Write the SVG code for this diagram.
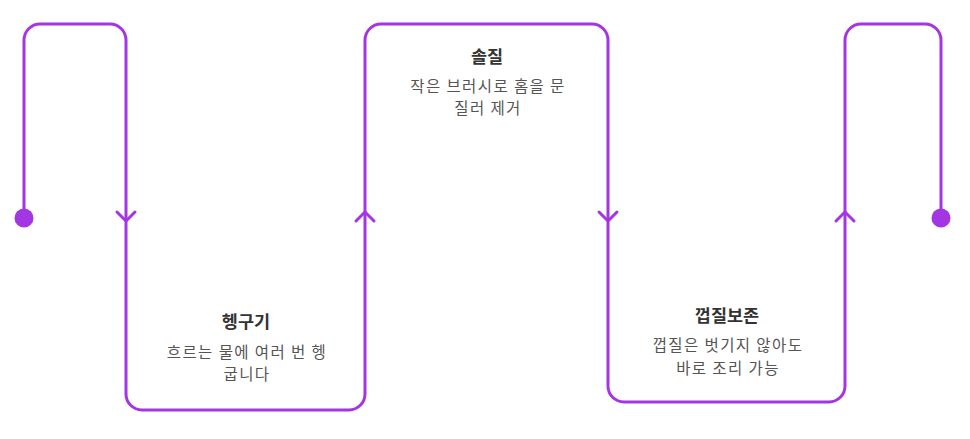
<svg xmlns="http://www.w3.org/2000/svg" width="970" height="439" viewBox="0 0 970 439">
<style>
.line{fill:none;stroke:#A336E2;stroke-width:3;stroke-linecap:round;stroke-linejoin:round}
.dot{fill:#A336E2}
.title{font-family:"Noto Sans CJK KR","Noto Sans",sans-serif;font-size:17.5px;font-weight:700;fill:#333;text-anchor:middle}
.desc{font-family:"Noto Sans CJK KR","Noto Sans",sans-serif;font-size:15.5px;letter-spacing:1.4px;fill:#555;text-anchor:middle}
</style>
<rect width="970" height="439" fill="#fff"/>
<g id="connectors">
<path class="line" d="M24,218 V40 A16,16 0 0 1 40,24 H110 A16,16 0 0 1 126,40 V394 A16,16 0 0 0 142,410 H349 A16,16 0 0 0 365,394 V40 A16,16 0 0 1 381,24 H592 A16,16 0 0 1 608,40 V386 A16,16 0 0 0 624,402 H829 A16,16 0 0 0 845,386 V40 A16,16 0 0 1 861,24 H925 A16,16 0 0 1 941,40 V218"/>
<path class="line" d="M117,212 L126,221 L135,212"/>
<path class="line" d="M356,221 L365,212 L374,221"/>
<path class="line" d="M599,212 L608,221 L617,212"/>
<path class="line" d="M836,221 L845,212 L854,221"/>
<circle class="dot" cx="24" cy="218" r="9.5"/>
<circle class="dot" cx="941" cy="218" r="9.5"/>
</g>
<g id="node-rinse">
<text class="title" x="246" y="328">헹구기</text>
<text class="desc" x="247" y="357.5">흐르는 물에 여러 번 헹</text>
<text class="desc" x="247" y="380">굽니다</text>
</g>
<g id="node-brush">
<text class="title" x="487" y="63">솔질</text>
<text class="desc" x="488" y="91.5">작은 브러시로 홈을 문</text>
<text class="desc" x="488" y="114">질러 제거</text>
</g>
<g id="node-peel">
<text class="title" x="727" y="322">껍질보존</text>
<text class="desc" x="728" y="351">껍질은 벗기지 않아도</text>
<text class="desc" x="728" y="373.5">바로 조리 가능</text>
</g>
</svg>
